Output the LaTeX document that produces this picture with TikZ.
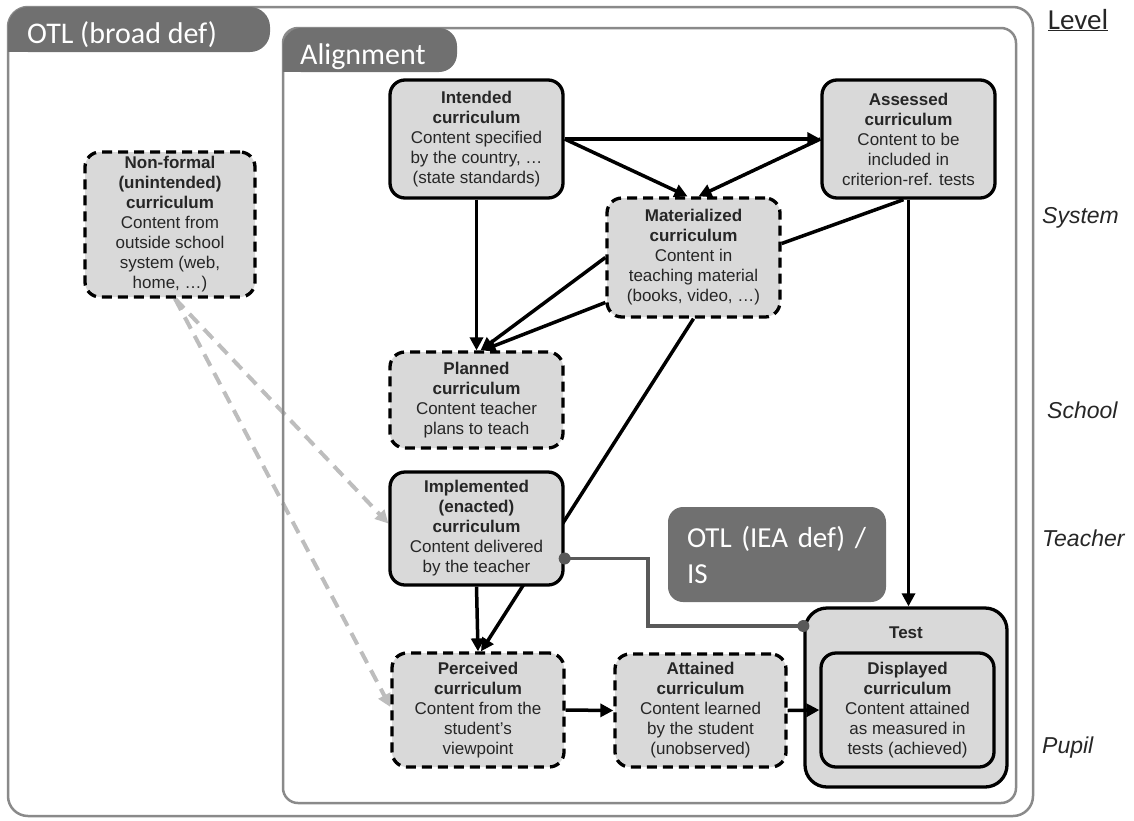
\documentclass[tikz,border=0pt]{standalone}
\usepackage{fontspec}
\setmainfont{Liberation Sans}
\newfontfamily\calibri{Carlito}
\usetikzlibrary{arrows.meta,calc}
\definecolor{boxfill}{HTML}{D9D9D9}
\definecolor{tabfill}{HTML}{707070}
\definecolor{frame}{HTML}{8A8A8A}
\definecolor{txt}{HTML}{262626}
\definecolor{link}{HTML}{595959}
\definecolor{nfline}{HTML}{BDBDBD}
\pgfdeclarelayer{bg}
\pgfsetlayers{bg,main}
\begin{document}
\begin{tikzpicture}[x=1pt,y=-1pt,
 box/.style={draw=black, line width=3.3pt, fill=boxfill, rounded corners=15pt, align=center, text=txt, inner sep=0pt, font=\fontsize{17pt}{20pt}\selectfont},
 dbox/.style={box, dash pattern=on 10pt off 6pt},
 arr/.style={line width=3.5pt, -{Triangle[length=13pt,width=13pt]}},
 plainline/.style={line width=3.5pt},
 nf/.style={draw=nfline, line width=4pt, dash pattern=on 13pt off 8pt, -{Triangle[length=13pt,width=13pt,fill=nfline]}},
 frm/.style={draw=frame, line width=2.5pt},
 tabtext/.style={text=white, inner sep=0pt, font=\calibri\fontsize{30pt}{36pt}\selectfont},
 lvl/.style={anchor=west, text=txt, inner sep=0pt, font=\fontsize{23pt}{27pt}\selectfont\itshape},
]
\useasboundingbox (0,0) rectangle (1134,820);

% containers
\draw[frm, rounded corners=20pt] (8,7) rectangle (1033,816);
\fill[tabfill, rounded corners=20pt] (8,7) rectangle (270,52);
\fill[tabfill] (8,30) rectangle (30,52);
\node[tabtext, anchor=base west] (otltab) at (27,43) {OTL (broad def)};

\draw[frm, rounded corners=15pt] (283,28) rectangle (1016,803);
\fill[tabfill, rounded corners=18pt] (283,28) rectangle (457,72);
\fill[tabfill] (283,50) rectangle (305,72);
\node[tabtext, anchor=base west] (aligntab) at (300,64) {Alignment};

% level labels
\node[text=txt, inner sep=0pt, anchor=base, font=\calibri\fontsize{29pt}{34pt}\selectfont] (level) at (1078,29) {\underline{Level}};
\node[lvl] (sys) at (1042,218) {System};
\node[lvl] (sch) at (1047,410) {School};
\node[lvl] (tea) at (1042,538) {Teacher};
\node[lvl] (pup) at (1042,748) {Pupil};

% OTL (IEA def) box
\node[fill=tabfill, rounded corners=15pt, minimum width=218pt, minimum height=95pt, text width=180pt, align=left, inner sep=0pt, text=white, font=\calibri\fontsize{29pt}{36pt}\selectfont] (iea) at (777,554.5) {OTL\ (IEA\ def)\ /\\IS};

% curriculum nodes
\node[box, minimum width=173pt, minimum height=118pt] (intended) at (476.5,139)
 {\textbf{Intended}\\\textbf{curriculum}\\Content specified\\by the country, …\\(state standards)};
\node[box, minimum width=173pt, minimum height=118pt] (assessed) at (908.5,139)
 {\textbf{Assessed}\\\textbf{curriculum}\\Content to be\\included in\\criterion-ref. tests};
\node[dbox, minimum width=173pt, minimum height=119pt] (material) at (693.5,257.5)
 {\textbf{Materialized}\\\textbf{curriculum}\\Content in\\teaching material\\(books, video, …)};
\node[dbox, minimum width=170pt, minimum height=145pt] (nonformal) at (170,224.5)
 {\textbf{Non-formal}\\\textbf{(unintended)}\\\textbf{curriculum}\\Content from\\outside school\\system (web,\\home, …)};
\node[dbox, minimum width=173pt, minimum height=96pt] (planned) at (476.5,400)
 {\textbf{Planned}\\\textbf{curriculum}\\Content teacher\\plans to teach};
\node[box, minimum width=173pt, minimum height=113pt] (implemented) at (476.5,528.5)
 {\textbf{Implemented}\\\textbf{(enacted)}\\\textbf{curriculum}\\Content delivered\\by the teacher};
\node[dbox, minimum width=172pt, minimum height=114pt] (perceived) at (478,710)
 {\textbf{Perceived}\\\textbf{curriculum}\\Content from the\\student’s\\viewpoint};
\node[dbox, minimum width=171pt, minimum height=113pt] (attained) at (700.5,710.5)
 {\textbf{Attained}\\\textbf{curriculum}\\Content learned\\by the student\\(unobserved)};
\node[box, minimum width=202pt, minimum height=179pt, rounded corners=22pt] (test) at (906,697.5) {};
\node[text=txt, inner sep=0pt, font=\fontsize{17pt}{20pt}\selectfont\bfseries] (testlbl) at (906,633) {Test};
\node[box, minimum width=173pt, minimum height=114pt] (displayed) at (907.5,710)
 {\textbf{Displayed}\\\textbf{curriculum}\\Content attained\\as measured in\\tests (achieved)};

% connectors behind nodes
\begin{pgfonlayer}{bg}
\draw[arr] (intended.east) -- (assessed.west);
\draw[arr] (intended.east) -- ([xshift=-6pt]material.north);
\draw[arr] (assessed.west) -- ([xshift=5pt]material.north);
\draw[arr] (intended.south) -- (planned.north);
\draw[arr] (material.west) -- ([xshift=4pt]planned.north);
\draw[arr] ([yshift=-45pt]material.west) -- ([xshift=6pt]planned.north);
\draw[plainline] ([xshift=-5pt]assessed.south) -- ([yshift=14pt]material.east);
\draw[arr] (assessed.south) -- (assessed.south |- test.north);
\draw[arr] (material.south) -- ([xshift=3pt]perceived.north);
\draw[arr] (implemented.south) -- (perceived.north);
\draw[arr] (perceived.east) -- (attained.west);
\draw[nf] ([xshift=5pt]nonformal.south) -- ([yshift=5pt]implemented.west);
\draw[nf] ([xshift=5pt]nonformal.south) -- ([yshift=3pt]perceived.west);
\end{pgfonlayer}

\draw[arr] (attained.east) -- (displayed.west);

% grey link between implemented and test
\coordinate (g1) at ([yshift=-30pt]implemented.east);
\coordinate (g2) at ([yshift=71.5pt]test.west);
\draw[link, line width=3.5pt] (g1) -| (648,592) |- (g2);
\fill[link] (g1) circle (6pt);
\fill[link] (g2) circle (6pt);
\end{tikzpicture}
\end{document}
